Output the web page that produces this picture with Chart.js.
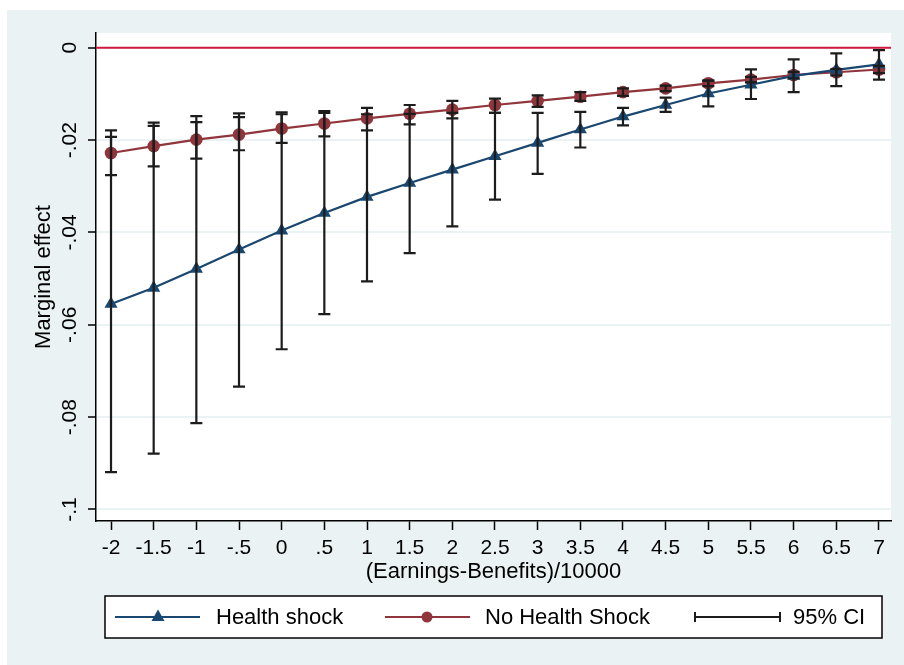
<!DOCTYPE html>
<html>
<head>
<meta charset="utf-8">
<script src="https://cdn.jsdelivr.net/npm/chart.js@4.4.1/dist/chart.umd.min.js"></script>
<style>
html,body{margin:0;padding:0;background:#fff;}
#wrap{width:904px;height:665px;position:relative;}
</style>
</head>
<body>
<div id="wrap"><canvas id="c" width="904" height="665"></canvas></div>
<script>
// ---- data ----
const xValues = [-2,-1.5,-1,-0.5,0,0.5,1,1.5,2,2.5,3,3.5,4,4.5,5,5.5,6,6.5,7];
const xTickLabels = ["-2","-1.5","-1","-.5","0",".5","1","1.5","2","2.5","3","3.5","4","4.5","5","5.5","6","6.5","7"];
const yTickValues = [0,-0.02,-0.04,-0.06,-0.08,-0.1];
const yTickLabels = ["0","-.02","-.04","-.06","-.08","-.1"];

const healthShock   = [-0.0555,-0.0520,-0.0479,-0.0437,-0.0396,-0.0358,-0.0323,-0.0293,-0.0264,-0.0235,-0.0206,-0.0177,-0.0149,-0.0124,-0.0099,-0.0080,-0.0061,-0.0048,-0.0036];
const healthShockLo = [-0.0919,-0.0879,-0.0813,-0.0734,-0.0653,-0.0577,-0.0506,-0.0445,-0.0387,-0.0329,-0.0273,-0.0216,-0.0168,-0.0139,-0.0127,-0.0111,-0.0096,-0.0083,-0.0069];
const healthShockHi = [-0.0193,-0.0162,-0.0148,-0.0142,-0.0140,-0.0141,-0.0144,-0.0143,-0.0141,-0.0141,-0.0141,-0.0139,-0.0130,-0.0108,-0.0071,-0.0047,-0.0025,-0.0012,-0.0005];

const noShock   = [-0.0228,-0.0213,-0.0199,-0.0188,-0.0175,-0.0164,-0.0153,-0.0143,-0.0134,-0.0124,-0.0115,-0.0106,-0.0096,-0.0088,-0.0077,-0.0069,-0.0059,-0.0053,-0.0047];
const noShockLo = [-0.0276,-0.0257,-0.0240,-0.0222,-0.0206,-0.0192,-0.0179,-0.0166,-0.0153,-0.0141,-0.0128,-0.0115,-0.0104,-0.0094,-0.0083,-0.0075,-0.0066,-0.0060,-0.0055];
const noShockHi = [-0.0179,-0.0169,-0.0161,-0.0150,-0.0144,-0.0137,-0.0130,-0.0124,-0.0115,-0.0110,-0.0103,-0.0096,-0.0088,-0.0082,-0.0071,-0.0063,-0.0052,-0.0046,-0.0039];

const seriesNames = ["Health shock","No Health Shock","95% CI"];
const xTitle = "(Earnings-Benefits)/10000";
const yTitle = "Marginal effect";

// ---- styles ----
const NAVY = '#1a476f', MAROON = '#90353b', ZERO = '#d0193f', CI = '#1c1c1c';
const BG = '#eaf2f3';
const FONT = '"Liberation Sans", Arial, sans-serif';

const bgPlugin = {
  id: 'bg',
  beforeDraw(chart) {
    const {ctx, chartArea: a} = chart;
    ctx.save();
    ctx.fillStyle = '#ffffff';
    ctx.fillRect(0, 0, chart.width, chart.height);
    ctx.fillStyle = BG;
    ctx.fillRect(7, 10, chart.width - 7, chart.height - 10);
    ctx.fillStyle = '#ffffff';
    ctx.fillRect(a.left, a.top, a.right - a.left, a.bottom - a.top);
    ctx.restore();
  },
  beforeDatasetsDraw(chart) {
    const {ctx, chartArea: a, scales} = chart;
    const y0 = scales.y.getPixelForValue(0);
    ctx.save();
    ctx.strokeStyle = ZERO;
    ctx.lineWidth = 2;
    ctx.beginPath();
    ctx.moveTo(a.left, y0);
    ctx.lineTo(a.right, y0);
    ctx.stroke();
    ctx.restore();
  },
  afterDatasetsDraw(chart) {
    const {ctx, scales} = chart;
    const drawCI = (lo, hi) => {
      for (let i = 0; i < xValues.length; i++) {
        const x = scales.x.getPixelForValue(xValues[i]);
        const yl = scales.y.getPixelForValue(lo[i]);
        const yh = scales.y.getPixelForValue(hi[i]);
        ctx.beginPath();
        ctx.moveTo(x, yl); ctx.lineTo(x, yh);
        ctx.moveTo(x - 6, yl); ctx.lineTo(x + 6, yl);
        ctx.moveTo(x - 6, yh); ctx.lineTo(x + 6, yh);
        ctx.stroke();
      }
    };
    ctx.save();
    ctx.strokeStyle = CI;
    ctx.lineWidth = 2.2;
    drawCI(healthShockLo, healthShockHi);
    drawCI(noShockLo, noShockHi);
    ctx.restore();
  },
  afterDraw(chart) {
    const {ctx, chartArea: a, scales} = chart;
    ctx.save();
    ctx.fillStyle = '#000';
    // y tick labels, rotated
    ctx.font = '21px ' + FONT;
    ctx.textAlign = 'center';
    ctx.textBaseline = 'middle';
    yTickValues.forEach((v, i) => {
      const y = scales.y.getPixelForValue(v);
      ctx.save();
      ctx.translate(70, y);
      ctx.rotate(-Math.PI / 2);
      ctx.fillText(yTickLabels[i], 0, 0);
      ctx.restore();
    });
    // axis titles
    ctx.font = '22px ' + FONT;
    ctx.fillText(xTitle, (a.left + a.right) / 2, 572);
    ctx.save();
    ctx.translate(44, (a.top + a.bottom) / 2);
    ctx.rotate(-Math.PI / 2);
    ctx.fillText(yTitle, 0, 0);
    ctx.restore();

    // legend
    const L = 105, T = 596, R = 882, B = 638, cy = (T + B) / 2;
    ctx.fillStyle = '#fff';
    ctx.fillRect(L, T, R - L, B - T);
    ctx.strokeStyle = '#000';
    ctx.lineWidth = 1.5;
    ctx.strokeRect(L, T, R - L, B - T);
    ctx.lineWidth = 2;
    // health shock
    ctx.strokeStyle = NAVY;
    ctx.beginPath(); ctx.moveTo(115, cy); ctx.lineTo(200, cy); ctx.stroke();
    ctx.fillStyle = NAVY;
    ctx.beginPath();
    ctx.moveTo(158, cy - 7.5); ctx.lineTo(164.5, cy + 4); ctx.lineTo(151.5, cy + 4); ctx.closePath(); ctx.fill();
    // no health shock
    ctx.strokeStyle = MAROON;
    ctx.beginPath(); ctx.moveTo(385, cy); ctx.lineTo(470, cy); ctx.stroke();
    ctx.fillStyle = MAROON;
    ctx.beginPath(); ctx.arc(427, cy, 5.5, 0, Math.PI * 2); ctx.fill();
    // CI
    ctx.strokeStyle = CI;
    ctx.beginPath();
    ctx.moveTo(695, cy); ctx.lineTo(780, cy);
    ctx.moveTo(695, cy - 5); ctx.lineTo(695, cy + 5);
    ctx.moveTo(780, cy - 5); ctx.lineTo(780, cy + 5);
    ctx.stroke();
    ctx.fillStyle = '#000';
    ctx.font = '22px ' + FONT;
    ctx.textAlign = 'left';
    ctx.fillText(seriesNames[0], 216, cy + 1);
    ctx.fillText(seriesNames[1], 485, cy + 1);
    ctx.fillText(seriesNames[2], 793, cy + 1);
    ctx.restore();
  }
};

const pts = ys => xValues.map((x, i) => ({x, y: ys[i]}));

new Chart(document.getElementById('c'), {
  type: 'line',
  data: {
    datasets: [
      {
        label: seriesNames[0], data: pts(healthShock),
        borderColor: NAVY, backgroundColor: NAVY, borderWidth: 2.2,
        pointStyle: 'triangle', pointRadius: 7.6, pointBorderWidth: 0, tension: 0
      },
      {
        label: seriesNames[1], data: pts(noShock),
        borderColor: MAROON, backgroundColor: MAROON, borderWidth: 2.2,
        pointStyle: 'circle', pointRadius: 6.3, pointBorderWidth: 0, tension: 0
      }
    ]
  },
  options: {
    responsive: false,
    animation: false,
    devicePixelRatio: 1,
    layout: {padding: {top: 33, right: 13, left: 0, bottom: 0}},
    plugins: {legend: {display: false}, tooltip: {enabled: false}},
    scales: {
      x: {
        type: 'linear', min: -2.176, max: 7.141,
        afterBuildTicks: s => { s.ticks = xValues.map(v => ({value: v})); },
        afterFit: s => { s.height = 665 - 521; },
        grid: {drawOnChartArea: false, drawTicks: true, tickLength: 9, tickColor: '#000', tickWidth: 1.5},
        border: {display: true, color: '#000', width: 1.5},
        ticks: {
          autoSkip: false, maxRotation: 0, minRotation: 0, padding: 6,
          color: '#000', font: {family: FONT, size: 21},
          callback: (v, i) => xTickLabels[i]
        }
      },
      y: {
        type: 'linear', min: -0.1025, max: 0.0032,
        afterBuildTicks: s => { s.ticks = yTickValues.slice().reverse().map(v => ({value: v})); },
        afterFit: s => { s.width = 96; },
        grid: {color: BG, lineWidth: 2, drawTicks: true, tickLength: 8, tickColor: '#000', tickWidth: 1.5},
        border: {display: true, color: '#000', width: 1.5},
        ticks: {display: false}
      }
    }
  },
  plugins: [bgPlugin]
});
</script>
</body>
</html>
